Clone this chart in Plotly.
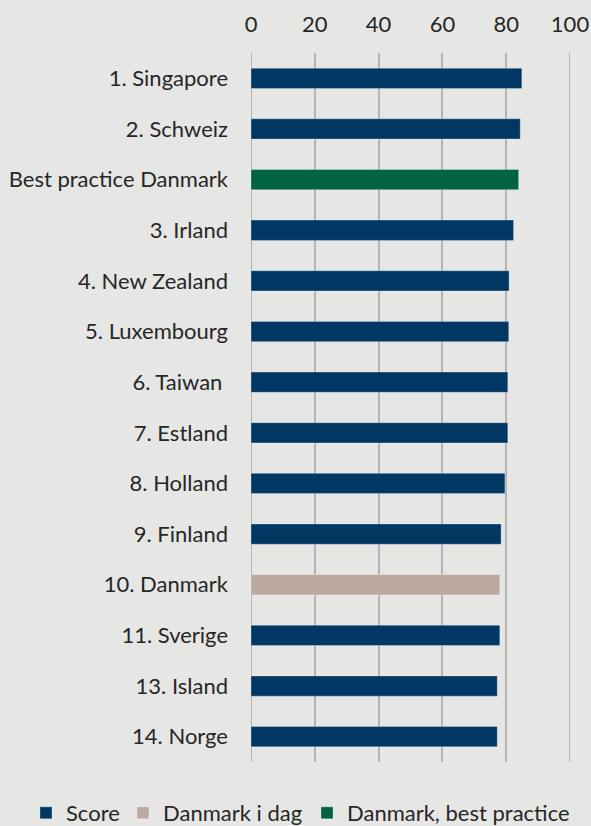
import plotly.graph_objects as go

categories = ["1. Singapore", "2. Schweiz", "Best practice Danmark", "3. Irland",
              "4. New Zealand", "5. Luxembourg", "6. Taiwan ", "7. Estland",
              "8. Holland", "9. Finland", "10. Danmark", "11. Sverige",
              "13. Island", "14. Norge"]
values = [84.9, 84.4, 83.9, 82.3, 80.9, 80.8, 80.5, 80.5, 79.6, 78.4, 78.0, 78.0, 77.2, 77.2]
series = ["Score", "Score", "Danmark, best practice", "Score", "Score", "Score", "Score",
          "Score", "Score", "Score", "Danmark i dag", "Score", "Score", "Score"]
series_names = ["Score", "Danmark i dag", "Danmark, best practice"]
colors = {"Score": "#003763", "Danmark i dag": "#bcaaa1", "Danmark, best practice": "#006442"}
tick_vals = [0, 20, 40, 60, 80, 100]

FONT = "Lato"
TXT = "#262626"
GRID = "#b4b4b4"

L, R, T, B = 251, 21, 53, 64
W, H = 591, 826
pw = W - L - R
ph = H - T - B

legend_ids = ["legend", "legend2", "legend3"]
legend_px = [26, 123, 307]
legend_y = -(813 - (T + ph)) / ph

fig = go.Figure()
for s, lid in zip(series_names, legend_ids):
    ys = [c for c, g in zip(categories, series) if g == s]
    xs = [v for v, g in zip(values, series) if g == s]
    fig.add_trace(go.Bar(
        x=xs, y=ys, orientation="h", name=s, legend=lid,
        marker=dict(color=colors[s], line=dict(color="rgba(255,255,255,0.3)", width=1)),
        width=0.4,
    ))

legends = {}
for lid, px in zip(legend_ids, legend_px):
    legends[lid] = dict(orientation="h", xref="paper", x=(px - L) / pw, xanchor="left",
                        yref="paper", y=legend_y, yanchor="middle",
                        font=dict(family=FONT, size=22, color=TXT),
                        itemwidth=30, bgcolor="rgba(0,0,0,0)")

fig.update_layout(
    width=W, height=H,
    paper_bgcolor="#e6e6e5", plot_bgcolor="#e6e6e5",
    margin=dict(l=L, r=R, t=T, b=B, autoexpand=False),
    barmode="overlay",
    font=dict(family=FONT, size=22, color=TXT),
    showlegend=True,
    xaxis=dict(range=[0, 100], tickvals=tick_vals, side="top", showgrid=True,
               gridcolor=GRID, gridwidth=2, zeroline=False, showline=False,
               ticks="", ticklabelstandoff=16,
               tickfont=dict(family=FONT, size=22, color=TXT), fixedrange=True),
    yaxis=dict(categoryorder="array", categoryarray=categories, autorange="reversed",
               showgrid=False, zeroline=False, showline=False, ticks="",
               ticklabelstandoff=22, tickfont=dict(family=FONT, size=22, color=TXT)),
    **legends,
)
for xv in (0, 100):
    fig.add_vline(x=xv, line=dict(color=GRID, width=2), layer="below")

fig.write_html("out.html", config={"displayModeBar": False})

with open("out.html", encoding="utf-8") as f:
    html = f.read()
html = html.replace("<body>", '<body style="margin:0;padding:0;">', 1)
html = html.replace("<head>", '<head><style>html,body{margin:0;padding:0;}</style>', 1)
with open("out.html", "w", encoding="utf-8") as f:
    f.write(html)
